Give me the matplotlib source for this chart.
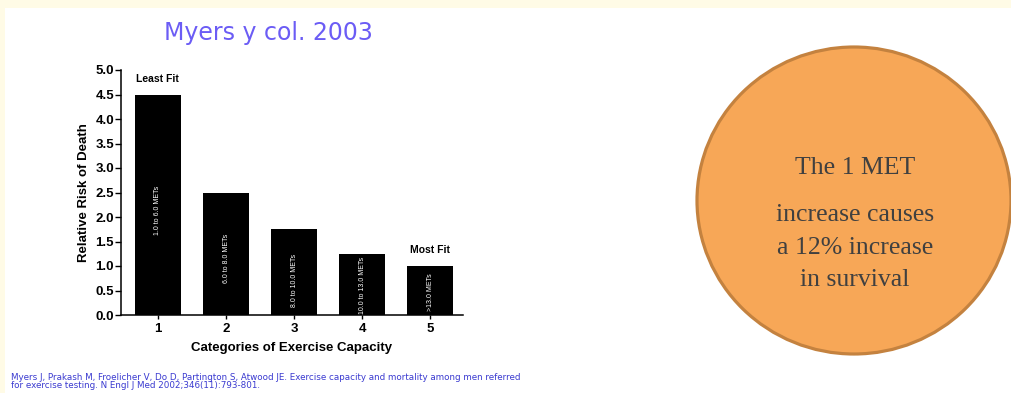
import matplotlib
matplotlib.use("Agg")
import matplotlib.pyplot as plt
from matplotlib.patches import Rectangle, Ellipse

# Data
categories = [1, 2, 3, 4, 5]
relative_risk = [4.5, 2.5, 1.75, 1.25, 1.0]
met_ranges = ["1.0 to 6.0 METs", "6.0 to 8.0 METs", "8.0 to 10.0 METs",
              "10.0 to 13.0 METs", ">13.0 METs"]
met_label_y = [2.14, 1.16, 0.71, 0.6, 0.47]
yticks = [0.0, 0.5, 1.0, 1.5, 2.0, 2.5, 3.0, 3.5, 4.0, 4.5, 5.0]
title = "Myers y col. 2003"
circle_lines = ["The 1 MET", "increase causes", "a 12% increase", "in survival"]
reference = ("Myers J, Prakash M, Froelicher V, Do D, Partington S, Atwood JE. Exercise capacity and mortality among men referred\n"
             "for exercise testing. N Engl J Med 2002;346(11):793-801.")

plt.rcParams["font.family"] = ["Liberation Sans", "DejaVu Sans"]

W, H = 1011, 393
fig = plt.figure(figsize=(W / 100, H / 100), dpi=100)
fig.patch.set_facecolor("#FFFBE6")

# background / decoration axes in pixel coords
bg = fig.add_axes([0, 0, 1, 1], zorder=0)
bg.set_xlim(0, W)
bg.set_ylim(H, 0)
bg.axis("off")
bg.add_patch(Rectangle((5, 8), W, H, facecolor="white", edgecolor="none"))
bg.add_patch(Ellipse((854, 200.5), 314, 307, facecolor="#F7A757",
                     edgecolor="#C4823F", linewidth=2.3))
circle_y = [168, 215, 248, 280]
for line, yy in zip(circle_lines, circle_y):
    bg.text(855, yy, line, ha="center", va="center", fontsize=18.5,
            family="Liberation Serif", color="#404040")
bg.text(268, 33, title, ha="center", va="center", fontsize=17,
        color="#6B5CF5", family="DejaVu Sans")
bg.text(11, 381.5, reference, ha="left", va="center", fontsize=6.3,
        color="#3A3AD0", linespacing=1.0, family="DejaVu Sans")

# bar chart
ax = fig.add_axes([121 / W, 1 - 315 / H, (463 - 121) / W, (315 - 70) / H], zorder=1)
ax.patch.set_alpha(0)
ax.bar(categories, relative_risk, width=0.68, color="black")
ax.set_xlim(0.456, 5.485)
ax.set_ylim(0, 5.0)
ax.set_yticks(yticks)
ax.set_yticklabels([f"{v:.1f}" for v in yticks])
ax.set_xticks(categories)
for s in ["top", "right"]:
    ax.spines[s].set_visible(False)
for s in ["left", "bottom"]:
    ax.spines[s].set_linewidth(1.1)
ax.tick_params(axis="y", length=4, width=1.0, pad=1, labelsize=9.5)
ax.tick_params(axis="x", length=3, width=1.0, pad=3, labelsize=9.5)
for lab in ax.get_xticklabels() + ax.get_yticklabels():
    lab.set_fontweight("bold")
ax.set_ylabel("Relative Risk of Death", fontsize=9.5, fontweight="bold", labelpad=4)
ax.set_xlabel("Categories of Exercise Capacity", fontsize=9.5, fontweight="bold", labelpad=5)

for c, txt, yy in zip(categories, met_ranges, met_label_y):
    ax.text(c, yy, txt, rotation=90, ha="center", va="center",
            fontsize=5, color="white")

ax.text(categories[0] - 0.33, 4.82, "Least Fit", ha="left", va="center",
        fontsize=7.5, fontweight="bold")
ax.text(categories[4], relative_risk[4] + 0.33, "Most Fit", ha="center", va="center",
        fontsize=7.5, fontweight="bold")

fig.savefig("out.png", dpi=100, facecolor=fig.get_facecolor())
